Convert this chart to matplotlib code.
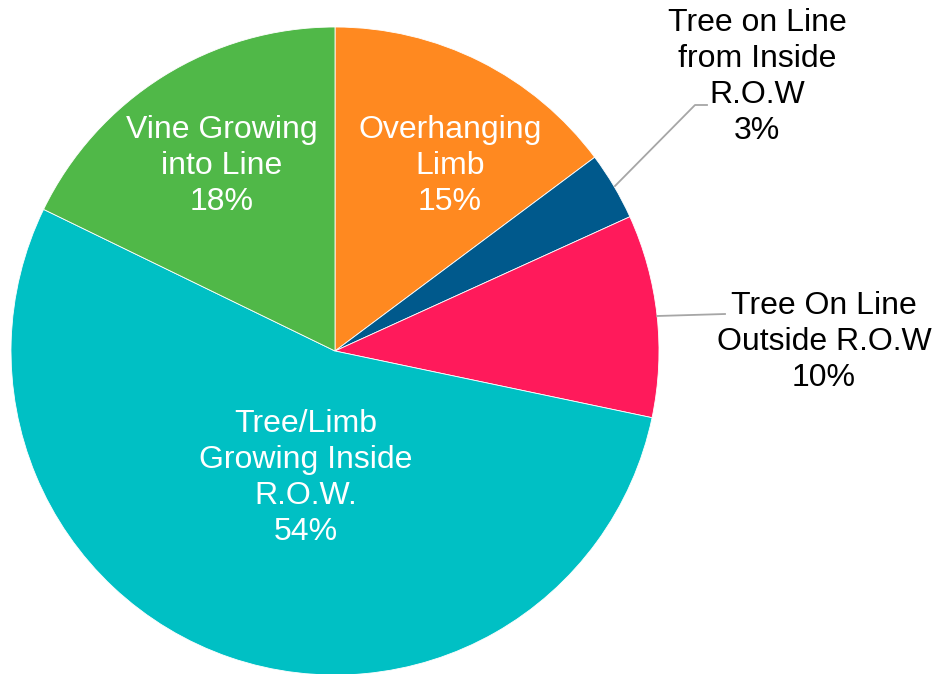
import matplotlib.pyplot as plt

plt.rcParams['font.family'] = ['Liberation Sans', 'DejaVu Sans']

# slices, clockwise from 12 o'clock (shares read from the slice edges)
labels = ["Overhanging\nLimb", "Tree on Line\nfrom Inside\nR.O.W",
          "Tree On Line\nOutside R.O.W", "Tree/Limb\nGrowing Inside\nR.O.W.",
          "Vine Growing\ninto Line"]
values = [14.8, 3.4, 10.1, 53.9, 17.8]
colors = ["#FF8920", "#00598C", "#FF1A5B", "#00C0C4", "#50B848"]

# pie geometry in pixels (center and radius)
cx, cy, R = 335, 351, 324
W, H = 936, 674


def to_data(px, py):
    return (px - cx) / R, (cy - py) / R


fig = plt.figure(figsize=(W / 100, H / 100), dpi=100)
ax = fig.add_axes([0, 0, 1, 1])

ax.pie(values, colors=colors, startangle=90, counterclock=False, radius=1,
       wedgeprops=dict(edgecolor='white', linewidth=0.6))

# pie() resets the limits, so set them afterwards
ax.set_xlim(-cx / R, (W - cx) / R)
ax.set_ylim(-(H - cy) / R, cy / R)
ax.axis('off')

# label centers in pixels, inside labels white, outside black
label_pos = [(450, 166), (757, 77), (824, 342), (306, 478), (222, 166)]
inside = [True, False, False, True, True]

for lab, v, (px, py), ins in zip(labels, values, label_pos, inside):
    x, y = to_data(px, py)
    ax.text(x, y, f"{lab}\n{round(v)}%", ha='center', va='center', fontsize=23,
            linespacing=1.25, color='white' if ins else 'black')

# leader lines
leaders = [[(615, 186), (695, 105), (707, 105)],
           [(657, 316), (725, 314)]]
for pts in leaders:
    xs, ys = zip(*[to_data(px, py) for px, py in pts])
    ax.plot(xs, ys, color='#A6A6A6', lw=1.3)

fig.savefig("out.png", dpi=100)
